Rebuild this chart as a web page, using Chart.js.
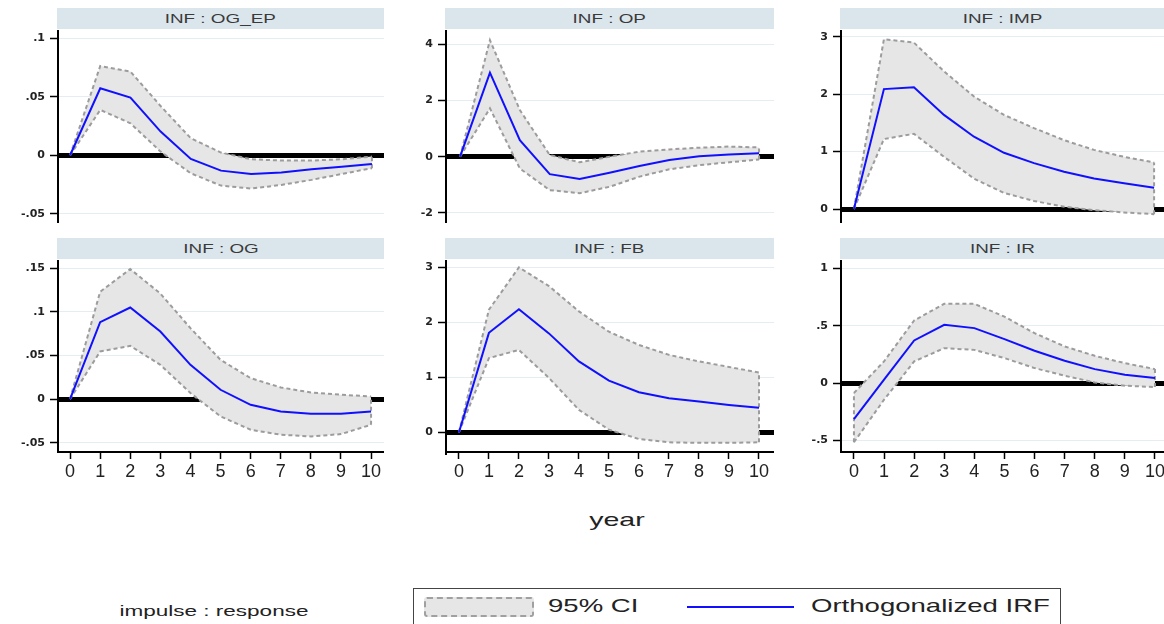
<!DOCTYPE html>
<html>
<head>
<meta charset="utf-8">
<script src="https://cdn.jsdelivr.net/npm/chart.js@4.4.1/dist/chart.umd.min.js"></script>
<style>
  body { margin: 0; background: #fff; width: 1164px; height: 624px; overflow: hidden; position: relative;
         font-family: "Liberation Sans", Arial, sans-serif; color: #222; }
  canvas { position: absolute; }
  .hdr { position: absolute; background: #dbe5ec; height: 21px; line-height: 21px; text-align: center;
         font-size: 13px; color: #3a3a3a; overflow: hidden; }
  .sx { display: inline-block; transform: scaleX(1.45); }
  .txt { position: absolute; white-space: nowrap; }
  #legend { position: absolute; left: 413px; top: 588px; width: 648px; height: 40px; border: 1px solid #444; box-sizing: border-box; }
  #swatch { position: absolute; left: 10px; top: 8px; width: 110px; height: 20px; background: #e6e6e6;
            border: 2px dashed #a0a0a0; border-radius: 3px; box-sizing: border-box; }
  #irfline { position: absolute; left: 273px; top: 17px; width: 107px; height: 0; border-top: 2px solid #1010ff; }
</style>
</head>
<body>
<div class="txt" style="left:617px;top:509px;font-size:19px;transform:translateX(-50%) scaleX(1.5)">year</div>
<div class="txt" style="left:214px;top:602px;font-size:15px;transform:translateX(-50%) scaleX(1.5)">impulse : response</div>
<div id="legend">
  <div id="swatch"></div>
  <div class="txt" style="left:134px;top:6px;font-size:19px;transform-origin:left center;transform:scaleX(1.45)">95% CI</div>
  <div id="irfline"></div>
  <div class="txt" style="left:397px;top:6px;font-size:19px;transform-origin:left center;transform:scaleX(1.45)">Orthogonalized IRF</div>
</div>
<script>
// forecast horizon (years) and its tick labels
const steps = [0, 1, 2, 3, 4, 5, 6, 7, 8, 9, 10];
const xLabels = ['0', '1', '2', '3', '4', '5', '6', '7', '8', '9', '10'];

const panelTitles = ['INF : OG_EP', 'INF : OP', 'INF : IMP', 'INF : OG', 'INF : FB', 'INF : IR'];

// INF : OG_EP
const ogEpIrf = [0, .0572, .0492, .0202, -.0031, -.0131, -.016, -.0148, -.012, -.0097, -.0074];
const ogEpHi  = [0, .0762, .0714, .042, .0145, .0023, -.0034, -.0045, -.0045, -.0034, -.0011];
const ogEpLo  = [0, .0387, .0273, .0031, -.0154, -.0259, -.0284, -.0253, -.021, -.016, -.011];
const ogEpTicks = [-.05, 0, .05, .1];

// INF : OP
const opIrf = [0, 2.99, .59, -.62, -.79, -.57, -.33, -.12, .02, .08, .12];
const opHi  = [0, 4.15, 1.66, .06, -.2, 0, .18, .26, .32, .36, .33];
const opLo  = [0, 1.72, -.42, -1.19, -1.3, -1.07, -.71, -.45, -.3, -.2, -.1];
const opTicks = [-2, 0, 2, 4];

// INF : IMP
const impIrf = [0, 2.09, 2.12, 1.64, 1.26, .98, .8, .65, .53, .45, .37];
const impHi  = [0, 2.96, 2.9, 2.4, 1.96, 1.64, 1.41, 1.2, 1.03, .91, .81];
const impLo  = [0, 1.22, 1.31, .91, .53, .28, .14, .04, -.02, -.06, -.09];
const impTicks = [0, 1, 2, 3];

// INF : OG
const ogIrf = [0, .0882, .105, .0775, .0393, .0107, -.0065, -.0141, -.0168, -.0168, -.0141];
const ogHi  = [0, .123, .149, .121, .0813, .045, .024, .0134, .0076, .005, .003];
const ogLo  = [0, .0546, .061, .0393, .0069, -.0198, -.0351, -.0408, -.0427, -.0401, -.0294];
const ogTicks = [-.05, 0, .05, .1, .15];

// INF : FB
const fbIrf = [0, 1.81, 2.24, 1.8, 1.29, .94, .73, .62, .56, .5, .45];
const fbHi  = [0, 2.23, 3.0, 2.66, 2.2, 1.83, 1.59, 1.41, 1.29, 1.19, 1.09];
const fbLo  = [0, 1.35, 1.5, .99, .41, .05, -.12, -.18, -.19, -.19, -.18];
const fbTicks = [0, 1, 2, 3];

// INF : IR
const irIrf = [-.314, .03, .372, .509, .48, .384, .282, .195, .122, .073, .044];
const irHi  = [-.087, .19, .547, .692, .692, .58, .436, .32, .238, .174, .122];
const irLo  = [-.517, -.145, .189, .305, .29, .218, .131, .064, .006, -.023, -.035];
const irTicks = [-.5, 0, .5, 1];

const panels = [
  { irf: ogEpIrf, hi: ogEpHi, lo: ogEpLo, yTicks: ogEpTicks, yMin: -.0578, yMax: .1069, xMin: -.4, xMax: 10.4, left: 0, width: 384, row: 0 },
  { irf: opIrf, hi: opHi, lo: opLo, yTicks: opTicks, yMin: -2.36, yMax: 4.51, xMin: -.47, xMax: 10.5, left: 388, width: 386, row: 0 },
  { irf: impIrf, hi: impHi, lo: impLo, yTicks: impTicks, yMin: -.244, yMax: 3.12, xMin: -.43, xMax: 10.33, left: 783, width: 381, row: 0 },
  { irf: ogIrf, hi: ogHi, lo: ogLo, yTicks: ogTicks, yMin: -.0606, yMax: .1594, xMin: -.4, xMax: 10.43, left: 0, width: 384, row: 1 },
  { irf: fbIrf, hi: fbHi, lo: fbLo, yTicks: fbTicks, yMin: -.356, yMax: 3.134, xMin: -.43, xMax: 10.5, left: 388, width: 386, row: 1 },
  { irf: irIrf, hi: irHi, lo: irLo, yTicks: irTicks, yMin: -.602, yMax: 1.075, xMin: -.43, xMax: 10.3, left: 783, width: 381, row: 1 }
];

// Stata style numbers: .05 instead of 0.05
function stataLabel(v) {
  const s = String(Math.round(v * 1000) / 1000);
  return s.replace(/^(-?)0\./, '$1.');
}

function pts(values) {
  return steps.map((x, i) => ({ x: x, y: values[i] }));
}

const ciLine = { borderColor: '#9c9c9c', borderWidth: 2, borderDash: [4, 3], pointRadius: 0, fill: false, tension: 0 };

function makePanel(p, i) {
  const top = p.row === 0 ? 30 : 260;
  const hdr = document.createElement('div');
  hdr.className = 'hdr';
  hdr.style.left = (p.left + 57) + 'px';
  hdr.style.top = (top - 22) + 'px';
  hdr.style.width = (p.width - 57) + 'px';
  hdr.innerHTML = '<span class="sx">' + panelTitles[i] + '</span>';
  document.body.appendChild(hdr);

  const canvas = document.createElement('canvas');
  canvas.width = p.width;
  canvas.height = p.row === 0 ? 193 : 232;
  canvas.style.left = p.left + 'px';
  canvas.style.top = top + 'px';
  document.body.appendChild(canvas);

  const last = steps.length - 1;
  new Chart(canvas, {
    type: 'line',
    data: {
      datasets: [
        { label: 'Orthogonalized IRF', data: pts(p.irf), borderColor: '#1010ff', borderWidth: 2, pointRadius: 0, fill: false },
        { label: 'ci start', data: [{ x: steps[0], y: p.lo[0] }, { x: steps[0], y: p.hi[0] }], ...ciLine },
        { label: 'ci end', data: [{ x: steps[last], y: p.lo[last] }, { x: steps[last], y: p.hi[last] }], ...ciLine },
        { label: '95% CI', data: pts(p.hi), ...ciLine, fill: '+1', backgroundColor: '#e6e6e6' },
        { label: '95% CI lower', data: pts(p.lo), ...ciLine }
      ]
    },
    options: {
      responsive: false,
      animation: false,
      layout: { padding: 0 },
      plugins: {
        legend: { display: false },
        tooltip: { enabled: false },
        filler: { drawTime: 'beforeDatasetsDraw' }
      },
      scales: {
        x: {
          type: 'linear',
          min: p.xMin,
          max: p.xMax,
          display: p.row === 1,
          afterBuildTicks: s => { s.ticks = steps.map(v => ({ value: v })); },
          afterFit: s => { s.height = p.row === 1 ? 40 : 0; s.paddingLeft = 0; s.paddingRight = 0; },
          grid: { drawOnChartArea: false, tickLength: 7, tickColor: '#000', tickWidth: 1.5 },
          border: { display: true, color: '#000', width: 2 },
          ticks: {
            font: { family: 'Liberation Sans', size: 18 },
            color: '#222',
            padding: 2,
            maxRotation: 0,
            autoSkip: false,
            callback: (v, idx) => xLabels[idx]
          }
        },
        y: {
          min: p.yMin,
          max: p.yMax,
          afterBuildTicks: s => { s.ticks = p.yTicks.map(v => ({ value: v })); },
          afterFit: s => { s.width = 58; s.paddingTop = 0; s.paddingBottom = 0; },
          grid: {
            color: c => (c.tick && c.tick.value === 0) ? '#000' : '#e4eef2',
            lineWidth: c => (c.tick && c.tick.value === 0) ? 5 : 1,
            tickLength: 8,
            tickColor: '#000',
            tickWidth: 1.5
          },
          border: { color: '#000', width: 2 },
          ticks: {
            font: { family: 'DejaVu Sans', size: 11, weight: 'bold' },
            color: '#222',
            padding: 5,
            autoSkip: false,
            callback: v => stataLabel(v)
          }
        }
      }
    }
  });
}

panels.forEach(makePanel);
</script>
</body>
</html>
